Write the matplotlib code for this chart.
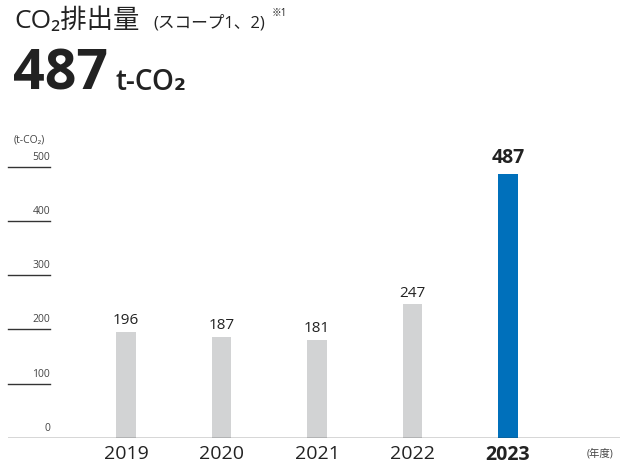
import matplotlib
matplotlib.use("Agg")
import matplotlib.pyplot as plt
from matplotlib.lines import Line2D

plt.rcParams['font.family'] = ['Open Sans', 'Noto Sans CJK JP', 'DejaVu Sans']

years = ["2019", "2020", "2021", "2022", "2023"]
emissions = [196, 187, 181, 247, 487]
y_ticks = [0, 100, 200, 300, 400, 500]
highlight = "2023"

W, H = 630, 468
fig = plt.figure(figsize=(W / 100, H / 100), dpi=100)


def px(x, y):
    return x / W, 1 - y / H


TEXT = "#222222"
GRAY_BAR = "#d2d3d4"
BLUE = "#0070bb"

# axes: baseline at y=438 px, 500 at y=166.7 px, spanning x 8..620 px
left, right = 8, 620
top, bottom = 166.7, 438
ax = fig.add_axes([left / W, (H - bottom) / H, (right - left) / W, (bottom - top) / H])
ax.set_ylim(0, 500)
ax.set_xlim(-1.236, 5.173)
ax.axis("off")

xs = list(range(len(years)))
colors = [BLUE if y == highlight else GRAY_BAR for y in years]
ax.bar(xs, emissions, width=0.2, color=colors, zorder=2)

# baseline
ax.axhline(0, color="#333333", lw=1.0, zorder=3)

# value labels
for x, v, y in zip(xs, emissions, years):
    if y == highlight:
        ax.annotate(str(v), (x, v), xytext=(0, 4), textcoords="offset points",
                    ha="center", va="bottom", fontsize=14, fontweight="bold", color=TEXT)
    else:
        ax.annotate(str(v), (x, v), xytext=(0, 2.5), textcoords="offset points",
                    ha="center", va="bottom", fontsize=11, color=TEXT)

# year labels
for x, y in zip(xs, years):
    ax.annotate(y, (x, 0), xytext=(0, -5), textcoords="offset points",
                ha="center", va="top", fontsize=14,
                fontweight="bold" if y == highlight else "normal", color=TEXT)

# y gridline stubs with labels
trans = ax.get_yaxis_transform()
for t in y_ticks[1:]:
    ax.add_line(Line2D([0, 42 / (right - left)], [t, t], transform=trans,
                       color="#333333", lw=1.0, clip_on=False))
for t in y_ticks:
    ax.annotate(str(t), (42 / (right - left), t), xycoords=trans,
                xytext=(0, 3), textcoords="offset points",
                ha="right", va="bottom", fontsize=7.5, color="#444444")

fig.text(*px(14, 143), "(t-CO₂)", fontsize=7.5, color="#444444", va="baseline", ha="left")
fig.text(*px(587, 456), "(年度)", fontsize=7.5, color="#444444", va="baseline", ha="left")

# heading
fig.text(*px(14, 28), "CO₂排出量", fontsize=19, color=TEXT, va="baseline", ha="left")
fig.text(*px(153, 28), "(スコープ1、2)", fontsize=12, color=TEXT, va="baseline", ha="left")
fig.text(*px(272, 16), "※1", fontsize=7, color=TEXT, va="baseline", ha="left")
fig.text(*px(13, 90), "487", fontsize=40, fontweight="bold", color=TEXT, va="baseline", ha="left")
fig.text(*px(115, 90), "t-CO₂", fontsize=20, fontweight="semibold", color=TEXT, va="baseline", ha="left")

fig.savefig("out.png", dpi=100, facecolor="white")
